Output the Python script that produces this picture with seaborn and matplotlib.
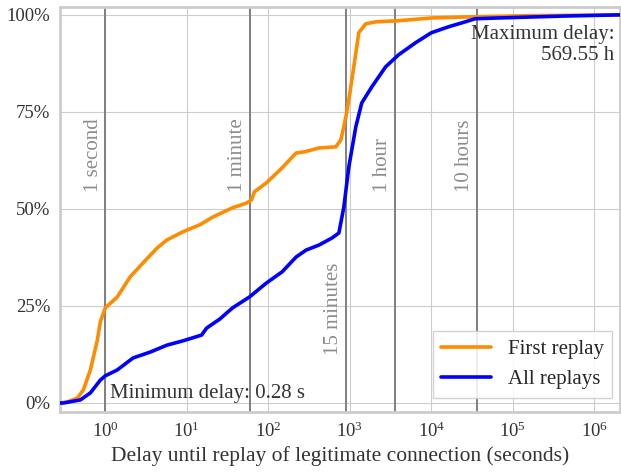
import numpy as np
import pandas as pd
import matplotlib
matplotlib.use("Agg")
import matplotlib.pyplot as plt
from matplotlib.ticker import PercentFormatter
import seaborn as sns

# CDF values (delay in seconds, share of connections)
first_delay = [0.28, 0.344, 0.456, 0.539, 0.656, 0.799, 0.869, 1.0, 1.40, 2.02, 2.91, 4.31,
               5.70, 8.94, 14.4, 20.8, 36.4, 53.9, 62.1, 67.5, 94.6, 148, 219, 275, 419,
               675, 777, 894, 972, 1119, 1288, 1567, 2076, 3960, 10000, 30760, 166000, 2.05e6]
first_share = [0.0, 0.003, 0.013, 0.034, 0.085, 0.162, 0.209, 0.245, 0.273, 0.325, 0.361, 0.399,
               0.420, 0.441, 0.459, 0.479, 0.503, 0.515, 0.523, 0.544, 0.567, 0.606, 0.644, 0.647, 0.657,
               0.660, 0.678, 0.737, 0.781, 0.866, 0.954, 0.977, 0.982, 0.985, 0.992, 0.995, 0.998, 1.0]

all_delay = [0.28, 0.308, 0.496, 0.656, 0.869, 1.0, 1.40, 2.19, 3.54, 5.70, 8.94, 15.2, 17.5,
             25.3, 36.4, 58.6, 94.6, 148, 219, 291, 419, 603, 734, 845, 972, 1183, 1400,
             1854, 2747, 3960, 6380, 10000, 16100, 26000, 34400, 65600, 430000, 2.05e6]
all_share = [0.0, 0.0, 0.008, 0.026, 0.059, 0.070, 0.085, 0.116, 0.131, 0.149, 0.160, 0.175, 0.193,
             0.216, 0.245, 0.273, 0.309, 0.338, 0.376, 0.394, 0.407, 0.425, 0.438, 0.505, 0.608, 0.711, 0.773,
             0.814, 0.866, 0.897, 0.928, 0.954, 0.969, 0.982, 0.990, 0.992, 0.997, 1.0]

marks = [1, 60, 900, 3600, 36000]
mark_labels = ["1 second", "1 minute", "15 minutes", "1 hour", "10 hours"]
mark_label_y = [0.544, 0.544, 0.124, 0.544, 0.544]

min_delay = 0.28
max_delay_h = 569.55

df = pd.concat([
    pd.DataFrame({"delay": first_delay, "share": first_share, "series": "First replay"}),
    pd.DataFrame({"delay": all_delay, "share": all_share, "series": "All replays"}),
])

sns.set_style("whitegrid")
plt.rcParams["font.family"] = ["Liberation Serif", "DejaVu Serif"]
plt.rcParams["mathtext.fontset"] = "stix"

fig, ax = plt.subplots(figsize=(6.21, 4.74), dpi=100)
fig.subplots_adjust(left=0.097, right=0.998, bottom=0.131, top=0.985)
ax.set_xscale("log")

# reference lines first so the curves sit on top
for m, lab, ly in zip(marks, mark_labels, mark_label_y):
    ax.axvline(m, color="#7f7f7f", lw=1.4, zorder=1.5)
    ax.annotate(lab, xy=(m, ly), xytext=(-2, 0), textcoords="offset points",
                rotation=90, ha="right", va="bottom", color="#8c8c8c", fontsize=15)

sns.lineplot(data=df, x="delay", y="share", hue="series",
             palette={"First replay": "#ff8c00", "All replays": "#0000ff"},
             estimator=None, sort=False, lw=2.6, ax=ax, zorder=3)

ax.set_xlim(min_delay, max_delay_h * 3600)
ax.set_ylim(-0.023, 1.02)
ax.set_xticks([10.0 ** k for k in range(0, 7)])
ax.set_yticks([0, 0.25, 0.5, 0.75, 1.0])
ax.yaxis.set_major_formatter(PercentFormatter(xmax=1, decimals=0))
ax.tick_params(labelsize=13.5, colors="#333333")
ax.set_xlabel("Delay until replay of legitimate connection (seconds)", fontsize=15.5, color="#333333")
ax.set_ylabel("")

for s in ax.spines.values():
    s.set_color("#cccccc")
    s.set_linewidth(2)

ax.text(1.15, 0.013, f"Minimum delay: {min_delay} s", fontsize=15, color="#333333",
        ha="left", va="baseline", zorder=4)
ax.text(1.75e6, 0.975, f"Maximum delay:\n{max_delay_h} h", fontsize=15, color="#333333",
        ha="right", va="top", multialignment="right", zorder=4)

sns.move_legend(ax, "lower right", bbox_to_anchor=(0.986, 0.035), borderaxespad=0,
                title=None, fontsize=15, frameon=True, fancybox=False, edgecolor="#cccccc",
                framealpha=0.85, handlelength=2.4)

fig.savefig("out.png", dpi=100)
